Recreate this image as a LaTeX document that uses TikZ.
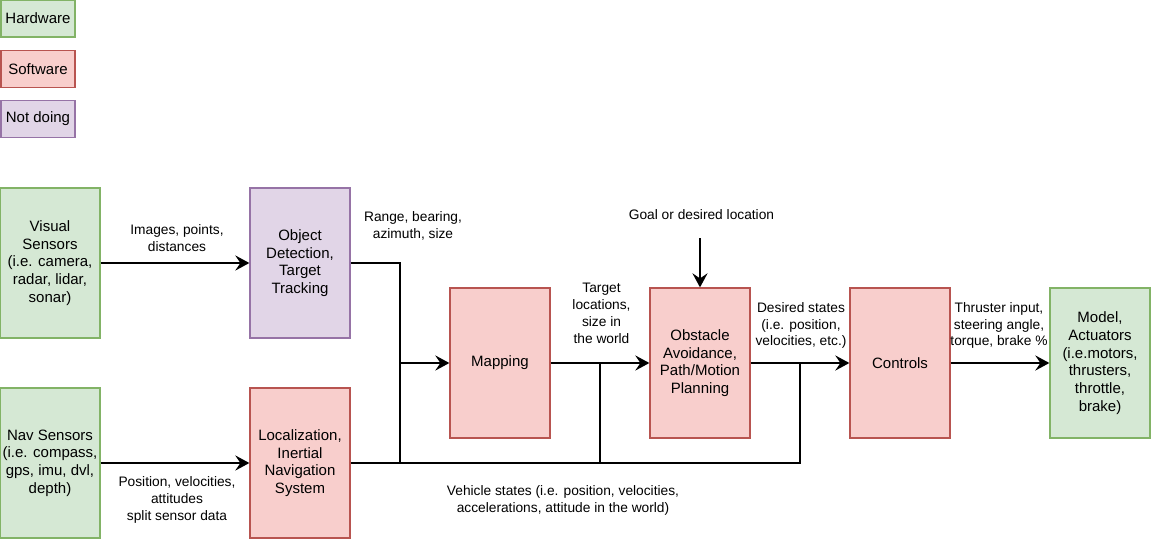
\documentclass[tikz,border=0pt]{standalone}
\usepackage{fontspec}
\setmainfont{Liberation Sans}
\usetikzlibrary{arrows.meta}
\definecolor{hwfill}{HTML}{D5E8D4}
\definecolor{hwline}{HTML}{82B366}
\definecolor{swfill}{HTML}{F8CECC}
\definecolor{swline}{HTML}{B85450}
\definecolor{ndfill}{HTML}{E1D5E7}
\definecolor{ndline}{HTML}{9673A6}
\tikzset{
  box/.style={line width=1.25pt, minimum width=100pt, minimum height=150pt, inner sep=0pt, align=center, font=\fontsize{15}{17.7}\selectfont},
  legbox/.style={line width=1.25pt, minimum width=74pt, minimum height=37pt, inner sep=0pt, align=center, font=\fontsize{15}{17.7}\selectfont},
  hw/.style={fill=hwfill, draw=hwline},
  sw/.style={fill=swfill, draw=swline},
  nd/.style={fill=ndfill, draw=ndline},
  lbl/.style={align=center, inner sep=0pt, font=\fontsize{13.75}{16.8}\selectfont},
  conn/.style={line width=2.5pt, line join=miter, draw=black},
  arr/.style={conn, -{Stealth[length=14pt,width=15pt,inset=5pt]}},
}
\begin{document}
\begin{tikzpicture}[x=1pt,y=-1pt]
\useasboundingbox (0,0) rectangle (1152,539);
% legend
\node[legbox,hw] (lhw) at (38,18.5) {Hardware};
\node[legbox,sw] (lsw) at (38,69) {Software};
\node[legbox,nd] (lnd) at (38,119) {Not doing};
% boxes
\node[box,hw] (vis) at (50,263) {Visual\\Sensors\\(i.e. camera,\\radar, lidar,\\sonar)};
\node[box,nd] (od) at (300,263) {Object\\Detection,\\Target\\Tracking};
\node[box,hw] (nav) at (50,463) {Nav Sensors\\(i.e. compass,\\gps, imu, dvl,\\depth)};
\node[box,sw] (loc) at (300,463) {Localization,\\Inertial\\Navigation\\System};
\node[box,sw] (map) at (500,363) {Mapping};
\node[box,sw] (obs) at (700,363) {Obstacle\\Avoidance,\\Path/Motion\\Planning};
\node[box,sw] (ctl) at (900,363) {Controls};
\node[box,hw] (mod) at (1100,363) {Model,\\Actuators\\(i.e.motors,\\thrusters,\\throttle,\\brake)};
% junction coordinates
\coordinate (j1) at (400,363);
\coordinate (j2) at (600,363);
\coordinate (j3) at (800,363);
\coordinate (b1) at (400,463);
\coordinate (b2) at (600,463);
\coordinate (b3) at (800,463);
\coordinate (g) at (700,238);
% connectors
\draw[arr] (vis) -- (od);
\draw[arr] (nav) -- (loc);
\draw[conn] (od.east) -| (j1);
\draw[arr] (j1) -- (map.west);
\draw[conn] (loc.east) -- (b3) -- (j3);
\draw[conn] (b1) -- (j1);
\draw[conn] (b2) -- (j2);
\draw[arr] (map) -- (obs);
\draw[arr] (obs) -- (ctl);
\draw[arr] (ctl) -- (mod);
\draw[arr] (g) -- (obs.north);
% labels
\node[lbl] (l1) at (177,238) {Images, points,\\distances};
\node[lbl] (l2) at (413,225.5) {Range, bearing,\\azimuth, size};
\node[lbl] (l3) at (701.5,214.5) {Goal or desired location};
\node[lbl] (l4) at (601.5,313.5) {Target\\locations,\\size in\\the world};
\node[lbl] (l5) at (801,325.5) {Desired states\\(i.e. position,\\velocities, etc.)};
\node[lbl] (l6) at (999,325.5) {Thruster input,\\steering angle,\\torque, brake \%};
\node[lbl] (l7) at (177,500) {Position, velocities,\\attitudes\\split sensor data};
\node[lbl] (l8) at (563,500.5) {Vehicle states (i.e. position, velocities,\\accelerations, attitude in the world)};
\end{tikzpicture}
\end{document}
